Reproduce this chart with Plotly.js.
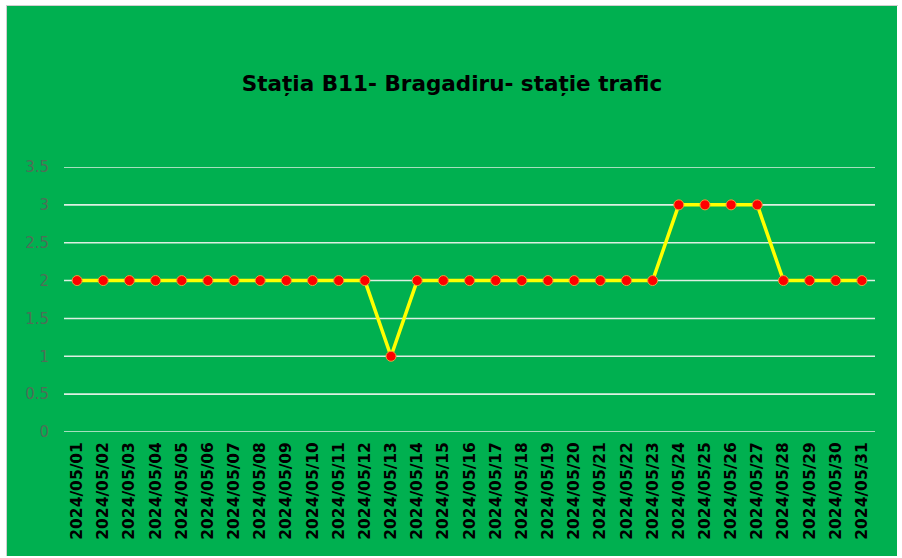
<!DOCTYPE html>
<html>
<head>
<meta charset="utf-8">
<script src="https://cdn.plot.ly/plotly-3.0.1.min.js"></script>
<style>
html,body{margin:0;padding:0;background:#ffffff;width:902px;height:558px;overflow:hidden;}
#chart{position:absolute;left:6px;top:5px;width:892px;height:551px;border-left:1px solid #cfcfcf;border-top:1px solid #cfcfcf;box-sizing:border-box;}
</style>
</head>
<body>
<div id="chart"></div>
<script>
const dates = ["2024/05/01","2024/05/02","2024/05/03","2024/05/04","2024/05/05","2024/05/06","2024/05/07","2024/05/08","2024/05/09","2024/05/10","2024/05/11","2024/05/12","2024/05/13","2024/05/14","2024/05/15","2024/05/16","2024/05/17","2024/05/18","2024/05/19","2024/05/20","2024/05/21","2024/05/22","2024/05/23","2024/05/24","2024/05/25","2024/05/26","2024/05/27","2024/05/28","2024/05/29","2024/05/30","2024/05/31"];
const values = [2,2,2,2,2,2,2,2,2,2,2,2,1,2,2,2,2,2,2,2,2,2,2,3,3,3,3,2,2,2,2];
const yTicks = [0,0.5,1,1.5,2,2.5,3,3.5];
const titleText = "Stația B11- Bragadiru- stație trafic";

const trace = {
  x: dates,
  y: values,
  type: "scatter",
  mode: "lines+markers",
  line: {color: "#FFFF00", width: 3.5},
  marker: {color: "#FF0000", size: 10, line: {color: "#E8A33A", width: 1}},
  hoverinfo: "x+y"
};

const gridShapes = yTicks.map(v => ({
  type: "line", xref: "paper", yref: "y", x0: 0, x1: 1, y0: v, y1: v,
  line: {color: "#DDEFE2", width: 1.6}, layer: "below"
}));

const layout = {
  width: 890,
  height: 550,
  paper_bgcolor: "#00B050",
  plot_bgcolor: "#00B050",
  margin: {l: 57, r: 22, t: 161, b: 124},
  showlegend: false,
  shapes: gridShapes,
  title: {
    text: "<b>" + titleText + "</b>",
    font: {family: "DejaVu Sans", size: 21.5, color: "#000000"},
    x: 0.5, xanchor: "center",
    y: 1 - 77/550, yanchor: "middle"
  },
  xaxis: {
    type: "category",
    categoryorder: "array",
    categoryarray: dates,
    range: [-0.5, dates.length - 0.5],
    tickangle: -90,
    tickfont: {family: "DejaVu Sans", size: 15.5, color: "#000000", weight: "bold"},
    showgrid: false,
    zeroline: false,
    showline: false,
    ticks: "",
    ticklabelstandoff: 6,
    fixedrange: true
  },
  yaxis: {
    range: [0, 3.5],
    tickvals: yTicks,
    ticktext: yTicks.map(String),
    tickfont: {family: "DejaVu Sans", size: 15, color: "#4f6e57"},
    showgrid: false,
    zeroline: false,
    showline: false,
    ticks: "",
    ticklabelstandoff: 14,
    fixedrange: true
  }
};

Plotly.newPlot("chart", [trace], layout, {displayModeBar: false, staticPlot: true});
</script>
</body>
</html>
